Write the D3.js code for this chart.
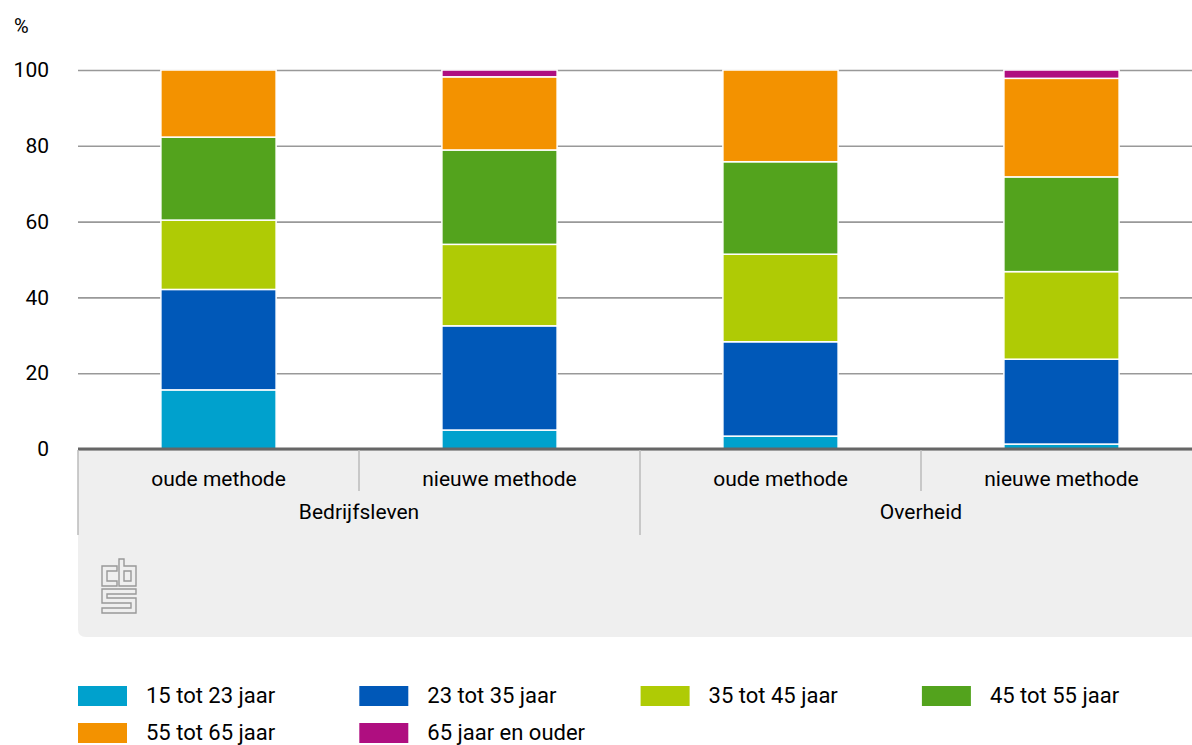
<!DOCTYPE html>
<html>
<head>
<meta charset="utf-8">
<script src="https://cdn.jsdelivr.net/npm/d3@7"></script>
<style>
  body { margin: 0; background: #fff; }
  svg { display: block; font-family: Roboto, "Noto Sans", sans-serif; }
</style>
</head>
<body>
<script>
// categories
var subcats = ["oude methode", "nieuwe methode", "oude methode", "nieuwe methode"],
	groups = ["Bedrijfsleven", "Bedrijfsleven", "Overheid", "Overheid"];

// series values (%)
var s15_23 = [15.6, 5.0, 3.4, 1.3],
	s23_35 = [26.5, 27.5, 24.9, 22.4],
	s35_45 = [18.3, 21.5, 23.1, 23.1],
	s45_55 = [21.9, 24.9, 24.4, 25.0],
	s55_65 = [17.7, 19.3, 24.2, 26.0],
	s65 = [0, 1.8, 0, 2.2];

var seriesNames = ["15 tot 23 jaar", "23 tot 35 jaar", "35 tot 45 jaar", "45 tot 55 jaar", "55 tot 65 jaar", "65 jaar en ouder"],
	seriesValues = [s15_23, s23_35, s35_45, s45_55, s55_65, s65],
	colors = ["#00a1cd", "#0058b8", "#afcb05", "#53a31d", "#f39200", "#af0e80"];

var yTicks = [0, 20, 40, 60, 80, 100];

var W = 1192, H = 745;
var margin = {left: 78, right: 1202, top: 70, bottom: 449};

var svg = d3.select('body')
	.append('svg')
	.attr('width', W)
	.attr('height', H);

// build table for stack
var keys = subcats.map(function(d, i) { return i; });
var table = keys.map(function(i) {
	var row = {key: i};
	seriesNames.forEach(function(s, j) { row[s] = seriesValues[j][i]; });
	return row;
});

var x = d3.scaleBand()
	.domain(keys)
	.range([margin.left, margin.right])
	.paddingInner(0.59)
	.paddingOuter(0.295);

var y = d3.scaleLinear()
	.domain([0, 100])
	.range([margin.bottom, margin.top]);

var step = x.step();

// grey panel under the axis
svg.append('path')
	.attr('d', 'M' + margin.left + ',' + margin.bottom + 'H' + (W + 10) + 'V637H' + (margin.left + 8) +
		'Q' + margin.left + ',637 ' + margin.left + ',629Z')
	.attr('fill', '#efefef');

// gridlines + labels
var yAxis = d3.axisLeft(y)
	.tickValues(yTicks)
	.tickSize(-(margin.right - margin.left))
	.tickPadding(29)
	.tickFormat(d3.format('d'));

var ga = svg.append('g')
	.attr('transform', 'translate(' + margin.left + ',0)')
	.call(yAxis);
ga.select('.domain').remove();
ga.selectAll('.tick line').attr('stroke', '#999').attr('stroke-width', 1.6);
ga.selectAll('.tick text')
	.attr('fill', '#000')
	.attr('font-size', 21)
	.attr('font-family', 'Roboto, "Noto Sans", sans-serif');

svg.append('text')
	.attr('x', 14).attr('y', 33)
	.attr('font-size', 20)
	.text('%');

// bars
var stack = d3.stack().keys(seriesNames);
var layers = stack(table);

svg.append('g')
	.selectAll('g')
	.data(layers)
	.enter().append('g')
		.attr('fill', function(d, i) { return colors[i]; })
	.selectAll('rect')
	.data(function(d) { return d.filter(function(p) { return p[1] - p[0] > 0; }); })
	.enter().append('rect')
		.attr('x', function(d) { return x(d.data.key); })
		.attr('y', function(d) { return y(d[1]); })
		.attr('width', x.bandwidth())
		.attr('height', function(d) { return y(d[0]) - y(d[1]); })
		.attr('stroke', '#fff')
		.attr('stroke-width', 1.5);

// baseline
svg.append('line')
	.attr('x1', margin.left).attr('x2', W + 10)
	.attr('y1', y(0)).attr('y2', y(0))
	.attr('stroke', '#666').attr('stroke-width', 3);

// category dividers and labels
var slotLeft = function(i) { return x(i) - x.paddingOuter() * step; };

keys.forEach(function(i) {
	var cx = x(i) + x.bandwidth() / 2;
	svg.append('text')
		.attr('x', cx).attr('y', 486)
		.attr('text-anchor', 'middle')
		.attr('font-size', 21)
		.text(subcats[i]);
	var isGroupStart = i === 0 || groups[i] !== groups[i - 1];
	svg.append('line')
		.attr('x1', slotLeft(i)).attr('x2', slotLeft(i))
		.attr('y1', margin.bottom + 1).attr('y2', isGroupStart ? 535 : 491)
		.attr('stroke', '#bbb').attr('stroke-width', 1.5);
});

var groupNames = groups.filter(function(g, i) { return groups.indexOf(g) === i; });
groupNames.forEach(function(g) {
	var idx = keys.filter(function(i) { return groups[i] === g; });
	var x0 = slotLeft(idx[0]), x1 = slotLeft(idx[idx.length - 1]) + step;
	svg.append('text')
		.attr('x', (x0 + x1) / 2).attr('y', 519)
		.attr('text-anchor', 'middle')
		.attr('font-size', 21)
		.text(g);
});

// cbs logo (approximation)
var logo = svg.append('g')
	.attr('transform', 'translate(102,559)')
	.attr('fill', 'none')
	.attr('stroke', '#999')
	.attr('stroke-width', 1.4);
logo.append('path').attr('d', 'M0,7H15V12H5V22H15V27H0Z');
logo.append('path').attr('d', 'M17,0H22V7H34V27H17Z M22,12V22H29V12Z');
logo.append('path').attr('d', 'M0,30H34V35H5V39H34V54H0V49H29V44H0Z');

// legend
var legend = svg.append('g');
seriesNames.forEach(function(s, i) {
	var col = i % 4, row = Math.floor(i / 4);
	var lx = margin.left + col * 281.3, ly = 686 + row * 37;
	legend.append('rect')
		.attr('x', lx).attr('y', ly)
		.attr('width', 49).attr('height', 20)
		.attr('fill', colors[i]);
	legend.append('text')
		.attr('x', lx + 68).attr('y', ly + 17)
		.attr('font-size', 22)
		.text(s);
});
</script>
</body>
</html>
